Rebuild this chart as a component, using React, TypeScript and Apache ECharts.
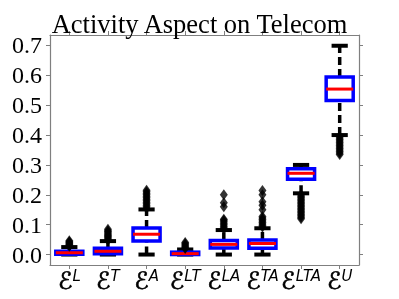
import React, { useEffect, useRef } from "react";
import * as echarts from "echarts";

const categories = ["L", "T", "A", "LT", "LA", "TA", "LTA", "U"];
const whiskerLow = [0.0, 0.0, 0.0, 0.0, 0.0, 0.0, 0.205, 0.4];
const q1 = [0.001, 0.003, 0.045, 0.0, 0.022, 0.021, 0.252, 0.516];
const median = [0.006, 0.011, 0.068, 0.003, 0.034, 0.037, 0.272, 0.554];
const q3 = [0.011, 0.021, 0.089, 0.008, 0.047, 0.049, 0.287, 0.594];
const whiskerHigh = [0.025, 0.045, 0.151, 0.017, 0.082, 0.088, 0.3, 0.699];
const outliersL = [0.028, 0.031, 0.034, 0.037, 0.04, 0.043, 0.046];
const outliersT = [0.048, 0.052, 0.056, 0.06, 0.064, 0.068, 0.072, 0.076, 0.08, 0.085];
const outliersA = [0.155, 0.16, 0.165, 0.17, 0.175, 0.18, 0.185, 0.19, 0.195, 0.2, 0.205, 0.21, 0.215];
const outliersLT = [0.02, 0.024, 0.028, 0.032, 0.036, 0.04];
const outliersLA = [0.085, 0.09, 0.095, 0.1, 0.105, 0.11, 0.115, 0.118, 0.16, 0.173, 0.2];
const outliersTA = [0.092, 0.097, 0.102, 0.107, 0.112, 0.117, 0.122, 0.127, 0.15, 0.165, 0.177, 0.2, 0.214];
const outliersLTA = [0.2, 0.195, 0.19, 0.185, 0.18, 0.175, 0.17, 0.165, 0.16, 0.155, 0.15, 0.145, 0.14, 0.135, 0.13, 0.125, 0.12];
const outliersU = [0.395, 0.39, 0.385, 0.38, 0.375, 0.37, 0.365, 0.36, 0.355, 0.35, 0.345, 0.34, 0.335];
const yTicks = [0, 0.1, 0.2, 0.3, 0.4, 0.5, 0.6, 0.7];

const allOutliers = [outliersL, outliersT, outliersA, outliersLT, outliersLA, outliersTA, outliersLTA, outliersU];

export default function App() {
  const ref = useRef<HTMLDivElement>(null);
  useEffect(() => {
    const chart = echarts.init(ref.current!, null, { renderer: "svg" });
    const frame = "#7f7f7f";
    const boxData = categories.map((c, i) => [i, whiskerLow[i], q1[i], median[i], q3[i], whiskerHigh[i]]);
    const outlierData: number[][] = [];
    allOutliers.forEach((arr, i) => arr.forEach((v) => outlierData.push([i, v])));

    const renderItem = (params: any, api: any) => {
      const i = api.value(0);
      const lo = api.coord([i, api.value(1)]);
      const b1 = api.coord([i, api.value(2)]);
      const md = api.coord([i, api.value(3)]);
      const b3 = api.coord([i, api.value(4)]);
      const hi = api.coord([i, api.value(5)]);
      const band = api.size([1, 0])[0];
      const hw = band * 0.35;
      const cw = band * 0.21;
      const x = lo[0];
      const whiskerStyle = { stroke: "#000", lineWidth: 3.5, lineDash: [8, 4] };
      const capStyle = { stroke: "#000", lineWidth: 4 };
      return {
        type: "group",
        children: [
          { type: "line", shape: { x1: x, y1: lo[1], x2: x, y2: b1[1] }, style: whiskerStyle },
          { type: "line", shape: { x1: x, y1: b3[1], x2: x, y2: hi[1] }, style: whiskerStyle },
          { type: "line", shape: { x1: x - cw, y1: lo[1], x2: x + cw, y2: lo[1] }, style: capStyle },
          { type: "line", shape: { x1: x - cw, y1: hi[1], x2: x + cw, y2: hi[1] }, style: capStyle },
          {
            type: "rect",
            shape: { x: x - hw, y: b3[1], width: hw * 2, height: b1[1] - b3[1] },
            style: { fill: "#fff", stroke: "#0000ff", lineWidth: 3.5 },
          },
          { type: "line", shape: { x1: x - hw, y1: md[1], x2: x + hw, y2: md[1] }, style: { stroke: "#ff0000", lineWidth: 3 } },
        ],
      };
    };

    const yBase = {
      type: "value",
      min: -0.035,
      max: 0.735,
      splitLine: { show: false },
      axisLine: { show: true, lineStyle: { color: frame, width: 1.2 } },
      axisTick: { show: true, length: 4, customValues: yTicks, lineStyle: { color: frame } },
    };

    chart.setOption({
      animation: false,
      title: {
        text: "Activity Aspect on Telecom",
        left: "center",
        top: 5,
        textStyle: { fontFamily: "Liberation Serif", fontSize: 26.5, fontWeight: "normal", color: "#000" },
      },
      grid: { left: 50, right: 40, top: 35, bottom: 34 },
      xAxis: [
        {
          type: "category",
          data: categories,
          position: "bottom",
          axisLine: { show: true, onZero: false, lineStyle: { color: frame, width: 1.2 } },
          axisTick: { show: true, alignWithLabel: true, length: 4, lineStyle: { color: frame } },
          axisLabel: {
            interval: 0,
            margin: 3,
            formatter: (v: string) => `{e|ℰ}{s|${v}}`,
            rich: {
              e: {
                fontFamily: "DejaVu Sans",
                fontSize: 24,
                color: "#000",
                lineHeight: 26,
                textBorderColor: "#000",
                textBorderWidth: 0.6,
              },
              s: {
                fontFamily: "DejaVu Sans",
                fontSize: 15,
                fontStyle: "italic",
                color: "#000",
                verticalAlign: "top",
                lineHeight: 14,
              },
            },
          },
        },
        {
          type: "category",
          data: categories,
          position: "top",
          axisLine: { show: true, onZero: false, lineStyle: { color: frame, width: 1.2 } },
          axisTick: { show: true, alignWithLabel: true, length: 4, lineStyle: { color: frame } },
          axisLabel: { show: false },
        },
      ],
      yAxis: [
        {
          ...yBase,
          position: "left",
          axisLabel: {
            customValues: yTicks,
            margin: 8,
            formatter: (v: number) => v.toFixed(1),
            fontFamily: "Liberation Serif",
            fontSize: 24,
            color: "#000",
          },
        },
        {
          ...yBase,
          position: "right",
          axisLabel: { show: false },
        },
      ],
      series: [
        {
          type: "custom",
          renderItem,
          data: boxData,
          encode: { x: 0, y: [1, 2, 3, 4, 5] },
          z: 2,
        },
        {
          type: "scatter",
          data: outlierData,
          symbol: "diamond",
          symbolSize: [8, 11],
          itemStyle: { color: "#000" },
          z: 3,
        },
      ],
    });
    return () => chart.dispose();
  }, []);
  return <div ref={ref} style={{ position: "fixed", left: 0, top: 0, width: 399, height: 299 }} />;
}
